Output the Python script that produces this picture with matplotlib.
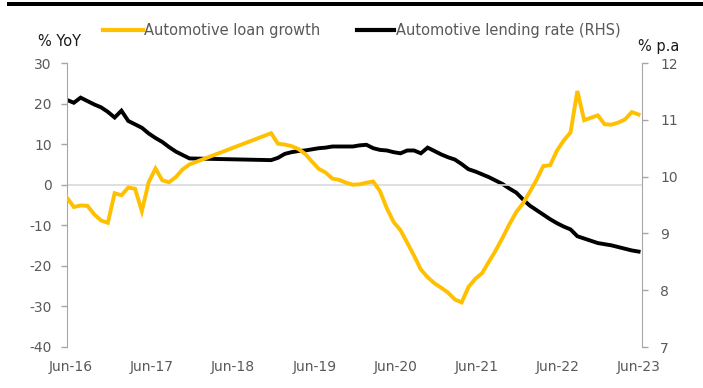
import matplotlib.pyplot as plt
from matplotlib.patches import Rectangle
import numpy as np

plt.rcParams['axes.unicode_minus'] = False

# Monthly data, Jun-16 .. Jun-23 (85 months); NaN = month not reported
loan_growth = [
    -3.2, -5.5, -5.1, -5.2, -7.3, -8.8, -9.4, -2.1, -2.6, -0.7,
    -1.0, -6.5, 0.6, 4.0, 1.1, 0.6, 1.9, 3.8, 5.0,
    np.nan, np.nan, np.nan, np.nan, np.nan, np.nan, np.nan, np.nan, np.nan, np.nan, np.nan,
    12.7, 10.1, 9.9, 9.5, 8.8, 7.6, 5.7, 3.9, 3.0, 1.5,
    1.2, 0.5, 0.0, 0.1, 0.5, 0.8, -1.6, -5.8, -9.2, -11.2,
    -14.3, -17.5, -20.9, -22.8, -24.3, -25.4, -26.6, -28.3, -29.0, -25.2,
    -23.2, -21.8, -19.0, -16.2, -13.1, -9.8, -6.8, -4.6, -1.8, 1.2,
    4.6, 4.8, 8.4, 10.9, 12.9, 23.1, 15.9, 16.5, 17.1, 14.9,
    14.8, 15.3, 16.1, 17.9, 17.3,
]
lending_rate = [
    11.35, 11.30, 11.39, 11.33, 11.27, 11.22, 11.14, 11.04, 11.16, 10.98,
    10.92, 10.86, 10.76, 10.68, 10.61, 10.52, 10.44, 10.38, 10.32,
    np.nan, np.nan, np.nan, np.nan, np.nan, np.nan, np.nan, np.nan, np.nan, np.nan, np.nan,
    10.29, 10.33, 10.40, 10.43, 10.45, 10.46, 10.48, 10.50, 10.51, 10.53,
    10.53, 10.53, 10.53, 10.55, 10.56, 10.50, 10.47, 10.46, 10.43, 10.41,
    10.46, 10.46, 10.41, 10.51, 10.45, 10.39, 10.34, 10.30, 10.22, 10.13,
    10.09, 10.04, 9.99, 9.93, 9.87, 9.79, 9.72, 9.60, 9.49, 9.41,
    9.33, 9.25, 9.18, 9.12, 9.07, 8.95, 8.91, 8.87, 8.83, 8.81,
    8.79, 8.76, 8.73, 8.70, 8.68,
]
year_labels = ['Jun-16', 'Jun-17', 'Jun-18', 'Jun-19', 'Jun-20', 'Jun-21', 'Jun-22', 'Jun-23']

gold = '#FFC000'
grey_txt = '#595959'
axis_grey = '#A6A6A6'

x = np.arange(len(loan_growth))
loan = np.array(loan_growth)
rate = np.array(lending_rate)
# skip missing months so the line joins across the gap
m1 = ~np.isnan(loan)
m2 = ~np.isnan(rate)

fig = plt.figure(figsize=(7.03, 3.88), dpi=100)
ax = fig.add_axes([67 / 703, 1 - 347 / 388, 575 / 703, 284 / 388])
ax2 = ax.twinx()

ax.plot(x[m1], loan[m1], color=gold, lw=2.8, solid_joinstyle='miter', zorder=3)
ax2.plot(x[m2], rate[m2], color='black', lw=2.8, solid_joinstyle='miter', zorder=3)
ax.set_zorder(ax2.get_zorder() + 1)
ax.patch.set_visible(False)

ax.set_xlim(0, 84.5)
ax.set_ylim(-40, 30)
ax2.set_ylim(7, 12)
ax.set_yticks(range(-40, 31, 10))
ax2.set_yticks(range(7, 13))

ax.axhline(0, color='#D9D9D9', lw=1.2, zorder=1)

ax.set_xticks(np.linspace(0.6, 84, 8))
ax.set_xticklabels(year_labels)
ax.tick_params(axis='x', length=0, pad=9, labelsize=10, labelcolor=grey_txt)
ax.tick_params(axis='y', direction='out', length=4, width=1, color=axis_grey,
               labelsize=10, labelcolor=grey_txt, pad=7)
ax2.tick_params(axis='y', direction='out', length=4, width=1, color=axis_grey,
                labelsize=10, labelcolor=grey_txt, pad=9)

for a in (ax, ax2):
    for s in a.spines.values():
        s.set_visible(False)
ax.spines['left'].set_visible(True)
ax.spines['left'].set_color(axis_grey)
ax2.spines['right'].set_visible(True)
ax2.spines['right'].set_color(axis_grey)

fig.text(38 / 703, 1 - 42 / 388, '% YoY', fontsize=10.5, color='#1a1a1a', va='center')
fig.text(638 / 703, 1 - 46 / 388, '% p.a', fontsize=10.5, color='#1a1a1a', va='center')

# legend drawn by hand above the plot
fig.add_artist(plt.Line2D([103 / 703, 143 / 703], [1 - 30 / 388] * 2, color=gold, lw=3))
fig.text(144 / 703, 1 - 30 / 388, 'Automotive loan growth', fontsize=10.5,
         color=grey_txt, va='center')
fig.add_artist(plt.Line2D([357 / 703, 394 / 703], [1 - 30 / 388] * 2, color='black', lw=3))
fig.text(396 / 703, 1 - 30 / 388, 'Automotive lending rate (RHS)', fontsize=10.5,
         color=grey_txt, va='center')

# heavy rule along the top
fig.add_artist(Rectangle((7 / 703, 1 - 6 / 388), 1, 3.7 / 388, transform=fig.transFigure,
                         color='black', lw=0))

fig.savefig('out.png', dpi=100)
